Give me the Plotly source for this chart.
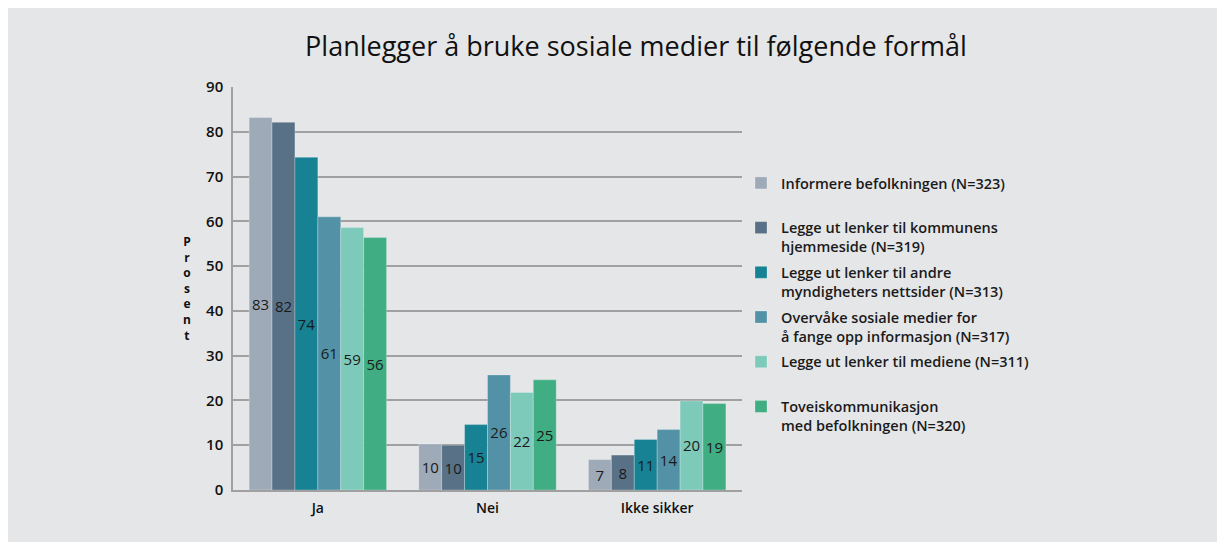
import plotly.graph_objects as go

categories = ["Ja", "Nei", "Ikke sikker"]
series_names = [
    "Informere befolkningen (N=323)",
    "Legge ut lenker til kommunens<br>hjemmeside (N=319)",
    "Legge ut lenker til andre<br>myndigheters nettsider (N=313)",
    "Overvåke sosiale medier for<br>å fange opp informasjon (N=317)",
    "Legge ut lenker til mediene (N=311)",
    "Toveiskommunikasjon<br>med befolkningen (N=320)",
]
# bar heights (percent)
informere = [83.2, 10.3, 6.8]
kommunens = [82.1, 10.0, 7.8]
andre = [74.3, 14.6, 11.3]
overvake = [61.0, 25.7, 13.5]
mediene = [58.6, 21.8, 19.9]
toveis = [56.4, 24.6, 19.3]
values = [informere, kommunens, andre, overvake, mediene, toveis]
# printed labels on bars
labels = [
    ["83", "10", "7"],
    ["82", "10", "8"],
    ["74", "15", "11"],
    ["61", "26", "14"],
    ["59", "22", "20"],
    ["56", "25", "19"],
]
colors = ["#9eaab8", "#587186", "#178294", "#5392a6", "#7ecaba", "#40ad82"]
y_ticks = [0, 10, 20, 30, 40, 50, 60, 70, 80, 90]

FONT = "Open Sans"
BG = "#e5e6e8"
OFF = 8  # page body margin

fig = go.Figure()
for i, (name, vals, lab, col) in enumerate(zip(series_names, values, labels, colors)):
    legend_name = name if "<br>" in name else name + "<br> "
    fig.add_trace(go.Bar(
        x=categories, y=vals, name=legend_name, text=lab,
        textposition="inside", insidetextanchor="middle", textangle=0,
        constraintext="none",
        textfont=dict(family=FONT, size=15, color="#1a1a1a"),
        marker=dict(color=col, line=dict(color="rgba(255,255,255,0.25)", width=1)),
        legendgroup=f"g{i}", hoverinfo="skip",
    ))

W, H = 1225, 542
L, R, T, B = 233 - OFF, 742 - OFF, 87 - OFF, 490 - OFF
pw, ph = R - L, B - T


def px(xs):
    return (xs - OFF - L) / pw


def py(ys):
    return (B - (ys - OFF)) / ph


fig.update_layout(
    width=W, height=H,
    margin=dict(l=L, r=W - R, t=T, b=H - B, pad=0),
    paper_bgcolor=BG, plot_bgcolor=BG,
    barmode="group", bargap=0.19, bargroupgap=0,
    title=dict(text="Planlegger å bruke sosiale medier til følgende formål",
               xref="container", yref="container",
               x=(636 - OFF) / W, xanchor="center", y=1 - (47 - OFF) / H, yanchor="middle",
               font=dict(family=FONT, size=27, color="#111111", weight=500)),
    font=dict(family=FONT, color="#111111"),
    showlegend=True,
    legend=dict(x=px(741), xanchor="left", y=py(167), yanchor="top",
                bgcolor="rgba(0,0,0,0)", valign="top",
                tracegroupgap=4, traceorder="grouped",
                font=dict(family=FONT, size=14.5, color="#1a1a1a", weight=600)),
    xaxis=dict(showgrid=False, showline=True, linecolor="#a0a0a0", linewidth=1.5,
               ticks="", ticklabelstandoff=4,
               tickfont=dict(family=FONT, size=14, color="#111111", weight=600)),
    yaxis=dict(range=[0, 90], tickvals=y_ticks, showgrid=True, gridcolor="#a0a0a0",
               gridwidth=1.5, showline=True, linecolor="#a0a0a0", linewidth=1.5,
               zeroline=False, ticks="", ticklabelstandoff=5,
               tickfont=dict(family=FONT, size=15, color="#111111", weight=600)),
    annotations=[dict(text="<br>".join("Prosent"), xref="paper", yref="paper",
                      x=px(187), y=0.5, xanchor="center", yanchor="middle",
                      showarrow=False,
                      font=dict(family=FONT, size=12, color="#111111", weight=700))],
)

fig.write_html("out.html")
